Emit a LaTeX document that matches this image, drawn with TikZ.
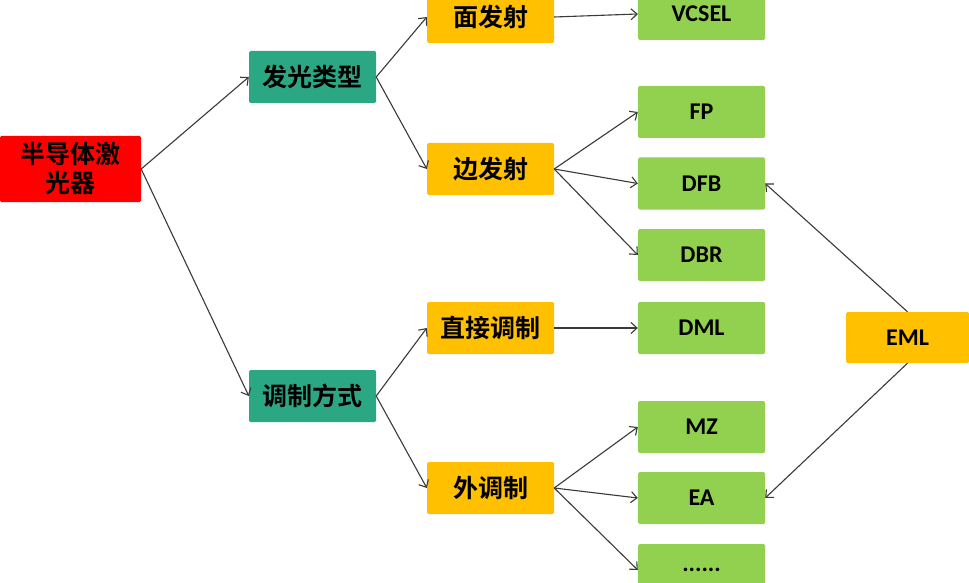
\documentclass[tikz,border=0pt]{standalone}
\usepackage{fontspec}
\setmainfont{Carlito}
\newfontfamily\cjk{Noto Sans CJK SC}[BoldFont={Noto Sans CJK SC Bold}]
\usetikzlibrary{arrows.meta}
\definecolor{cred}{HTML}{FF0000}
\definecolor{cteal}{HTML}{2BA784}
\definecolor{corange}{HTML}{FFC000}
\definecolor{cgreen}{HTML}{92D050}
\definecolor{cline}{HTML}{3A3A3A}
\tikzset{
  box/.style={rounded corners=1.5pt, draw=none, minimum width=127pt, minimum height=52pt, inner sep=0pt, align=center, text=black},
  zh/.style={box, font=\cjk\bfseries\fontsize{25}{29}\selectfont},
  en/.style={box, font=\bfseries\fontsize{24}{28}\selectfont},
  arr/.style={draw=cline, line width=1.1pt, -{Straight Barb[length=6pt,width=11pt]}}
}
\begin{document}
\begin{tikzpicture}[x=1pt,y=-1pt]
\useasboundingbox (0,0) rectangle (969,583);
\clip (0,0) rectangle (969,583);
\fill[white] (0,0) rectangle (969,583);
% level 0
\node[zh, fill=cred, minimum width=141pt, minimum height=66pt] (root) at (70.5,169) {半导体激\\光器};
% level 1
\node[zh, fill=cteal] (fg) at (312.5,77) {发光类型};
\node[zh, fill=cteal] (tz) at (312.5,396) {调制方式};
% level 2
\node[zh, fill=corange] (mf) at (490.5,17) {面发射};
\node[zh, fill=corange] (bf) at (490.5,169) {边发射};
\node[zh, fill=corange] (zj) at (490.5,328) {直接调制};
\node[zh, fill=corange] (wt) at (490.5,488) {外调制};
% level 3
\node[en, fill=cgreen] (vcsel) at (701.5,14) {VCSEL};
\node[en, fill=cgreen] (fp) at (701.5,112) {FP};
\node[en, fill=cgreen] (dfb) at (701.5,183.5) {DFB};
\node[en, fill=cgreen] (dbr) at (701.5,255) {DBR};
\node[en, fill=cgreen] (dml) at (701.5,328) {DML};
\node[en, fill=cgreen] (mz) at (701.5,427) {MZ};
\node[en, fill=cgreen] (ea) at (701.5,498) {EA};
\node[en, fill=cgreen] (dots) at (701.5,570) {......};
% EML
\node[en, fill=corange, minimum width=123pt, minimum height=51pt] (eml) at (907.5,337.5) {EML};
% connectors
\draw[arr] (root.east) -- (fg.west);
\draw[arr] (root.east) -- (tz.west);
\draw[arr] (fg.east) -- (mf.west);
\draw[arr] (fg.east) -- (bf.west);
\draw[arr] (tz.east) -- (zj.west);
\draw[arr] (tz.east) -- (wt.west);
\draw[arr] (mf.east) -- (vcsel.west);
\draw[arr] (bf.east) -- (fp.west);
\draw[arr] (bf.east) -- (dfb.west);
\draw[arr] (bf.east) -- (dbr.west);
\draw[arr] (zj.east) -- (dml.west);
\draw[arr] (wt.east) -- (mz.west);
\draw[arr] (wt.east) -- (ea.west);
\draw[arr] (wt.east) -- (dots.west);
\draw[arr] (eml.north) -- (dfb.east);
\draw[arr] (eml.south) -- (ea.east);
\end{tikzpicture}
\end{document}
